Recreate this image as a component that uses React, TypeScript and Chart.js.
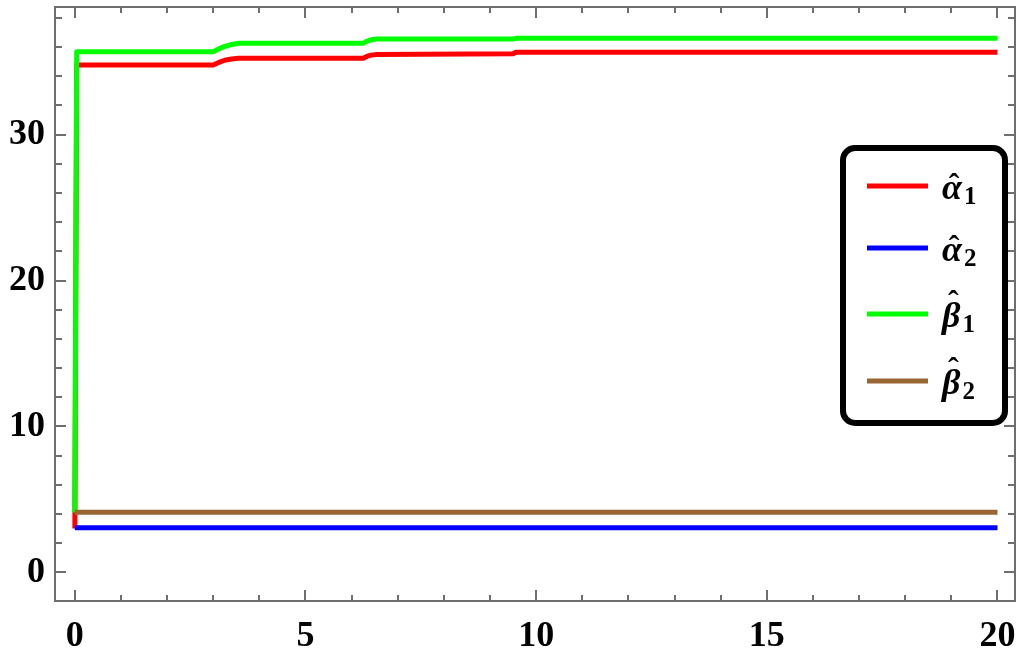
import React, { useEffect, useRef } from "react";
import { Chart, registerables } from "chart.js";

Chart.register(...registerables);

// ---- data ----
const alpha1X = [0, 0.04, 3.0, 3.12, 3.25, 3.4, 3.55, 6.25, 6.33, 6.42, 6.55, 9.5, 9.56, 20];
const alpha1Y = [3.0, 34.77, 34.77, 34.95, 35.1, 35.19, 35.23, 35.23, 35.36, 35.45, 35.5, 35.55, 35.64, 35.64];
const beta1X = [0, 0.04, 3.0, 3.12, 3.25, 3.4, 3.55, 6.25, 6.33, 6.42, 6.55, 9.5, 9.56, 20];
const beta1Y = [4.1, 35.68, 35.68, 35.88, 36.05, 36.18, 36.26, 36.26, 36.4, 36.5, 36.55, 36.55, 36.6, 36.6];
const alpha2X = [0, 20];
const alpha2Y = [3.06, 3.06];
const beta2X = [0, 20];
const beta2Y = [4.11, 4.11];

const seriesSymbols = ["α", "α", "β", "β"];
const seriesSubs = ["1", "2", "1", "2"];
const seriesColors = ["#ff0000", "#0000ff", "#00ff00", "#996633"];

const xTicks = [0, 5, 10, 15, 20];
const xMinorTicks = [1, 2, 3, 4, 6, 7, 8, 9, 11, 12, 13, 14, 16, 17, 18, 19];
const yTicks = [0, 10, 20, 30];
const yMinorTicks = [-2, 2, 4, 6, 8, 12, 14, 16, 18, 22, 24, 26, 28, 32, 34, 36, 38];

const toPts = (xs: number[], ys: number[]) => xs.map((x, i) => ({ x, y: ys[i] }));

const framePlugin = {
  id: "frameTicks",
  afterDatasetsDraw(chart: any) {
    const { ctx, chartArea: a, scales } = chart;
    const xs = scales.x;
    const ys = scales.y;
    ctx.save();
    ctx.strokeStyle = "#6e6e6e";
    ctx.lineWidth = 2;
    ctx.strokeRect(a.left, a.top, a.right - a.left, a.bottom - a.top);
    const tick = (x1: number, y1: number, x2: number, y2: number) => {
      ctx.beginPath();
      ctx.moveTo(x1, y1);
      ctx.lineTo(x2, y2);
      ctx.stroke();
    };
    const drawX = (vals: number[], len: number) => {
      vals.forEach((v) => {
        const px = Math.round(xs.getPixelForValue(v));
        if (px < a.left || px > a.right) return;
        tick(px, a.bottom, px, a.bottom - len);
        tick(px, a.top, px, a.top + len);
      });
    };
    const drawY = (vals: number[], len: number) => {
      vals.forEach((v) => {
        const py = Math.round(ys.getPixelForValue(v));
        if (py < a.top || py > a.bottom) return;
        tick(a.left, py, a.left + len, py);
        tick(a.right, py, a.right - len, py);
      });
    };
    drawX(xTicks, 11);
    drawX(xMinorTicks, 6);
    drawY(yTicks, 11);
    drawY(yMinorTicks, 7);
    ctx.restore();
  },
};

const legendPlugin = {
  id: "boxLegend",
  afterDraw(chart: any) {
    const { ctx } = chart;
    const bx = 843, by = 148, bw = 162, bh = 275, r = 12;
    ctx.save();
    ctx.beginPath();
    ctx.moveTo(bx + r, by);
    ctx.arcTo(bx + bw, by, bx + bw, by + bh, r);
    ctx.arcTo(bx + bw, by + bh, bx, by + bh, r);
    ctx.arcTo(bx, by + bh, bx, by, r);
    ctx.arcTo(bx, by, bx + bw, by, r);
    ctx.closePath();
    ctx.fillStyle = "#ffffff";
    ctx.fill();
    ctx.lineWidth = 6;
    ctx.strokeStyle = "#000000";
    ctx.stroke();
    const rowY = [186, 248, 314, 381];
    chart.data.datasets.forEach((ds: any, i: number) => {
      const y = rowY[i];
      ctx.strokeStyle = ds.borderColor;
      ctx.lineWidth = 5;
      ctx.beginPath();
      ctx.moveTo(867, y);
      ctx.lineTo(928, y);
      ctx.stroke();
      ctx.fillStyle = "#000";
      ctx.textBaseline = "alphabetic";
      ctx.textAlign = "left";
      const base = y + 13;
      ctx.font = "italic bold 36px 'Liberation Serif', serif";
      ctx.fillText(seriesSymbols[i], 942, base);
      const w = ctx.measureText(seriesSymbols[i]).width;
      // hat over the symbol
      ctx.textAlign = "center";
      ctx.font = "bold 32px 'Liberation Serif', serif";
      const lift = seriesSymbols[i] === "β" ? 15 : 4;
      ctx.fillText("\u02C6", 942 + w / 2 + 2, base - lift);
      ctx.textAlign = "left";
      ctx.font = "bold 25px 'Liberation Serif', serif";
      ctx.fillText(seriesSubs[i], 942 + w + 2, base + 5);
    });
    ctx.restore();
  },
};

export default function App() {
  const ref = useRef<HTMLCanvasElement | null>(null);
  useEffect(() => {
    if (!ref.current) return;
    const labels = seriesSymbols.map((s, i) => s + "\u0302" + seriesSubs[i]);
    const orders = [4, 3, 2, 1];
    const chart = new Chart(ref.current, {
      type: "line",
      data: {
        datasets: [
          { label: labels[0], data: toPts(alpha1X, alpha1Y), borderColor: seriesColors[0] },
          { label: labels[1], data: toPts(alpha2X, alpha2Y), borderColor: seriesColors[1] },
          { label: labels[2], data: toPts(beta1X, beta1Y), borderColor: seriesColors[2] },
          { label: labels[3], data: toPts(beta2X, beta2Y), borderColor: seriesColors[3] },
        ].map((d, i) => ({
          ...d,
          order: orders[i],
          borderWidth: 5,
          pointRadius: 0,
          tension: 0,
          fill: false,
          borderJoinStyle: "round" as const,
          borderCapStyle: "butt" as const,
        })),
      },
      options: {
        animation: false,
        responsive: false,
        maintainAspectRatio: false,
        layout: { padding: { top: 7, right: 9, left: 0, bottom: 0 } },
        plugins: { legend: { display: false }, tooltip: { enabled: false } },
        scales: {
          x: {
            type: "linear",
            min: -0.43,
            max: 20.38,
            grid: { display: false, drawTicks: false },
            border: { display: false },
            afterBuildTicks: (s: any) => {
              s.ticks = xTicks.map((v) => ({ value: v }));
            },
            afterFit: (s: any) => {
              s.height = 49;
              s.paddingLeft = 0;
              s.paddingRight = 0;
            },
            ticks: {
              padding: 14,
              color: "#000",
              maxRotation: 0,
              autoSkip: false,
              font: { family: "'Liberation Serif', serif", size: 36, weight: "bold" },
            },
          },
          y: {
            type: "linear",
            min: -1.97,
            max: 38.75,
            grid: { display: false, drawTicks: false },
            border: { display: false },
            afterBuildTicks: (s: any) => {
              s.ticks = yTicks.map((v) => ({ value: v }));
            },
            afterFit: (s: any) => {
              s.width = 55;
              s.paddingTop = 0;
              s.paddingBottom = 0;
            },
            ticks: {
              padding: 10,
              color: "#000",
              autoSkip: false,
              font: { family: "'Liberation Serif', serif", size: 36, weight: "bold" },
            },
          },
        },
      },
      plugins: [framePlugin, legendPlugin],
    });
    return () => chart.destroy();
  }, []);
  return (
    <div style={{ position: "fixed", left: 0, top: 0, width: 1024, height: 650, background: "#fff" }}>
      <canvas ref={ref} width={1024} height={650} style={{ display: "block" }} />
    </div>
  );
}
